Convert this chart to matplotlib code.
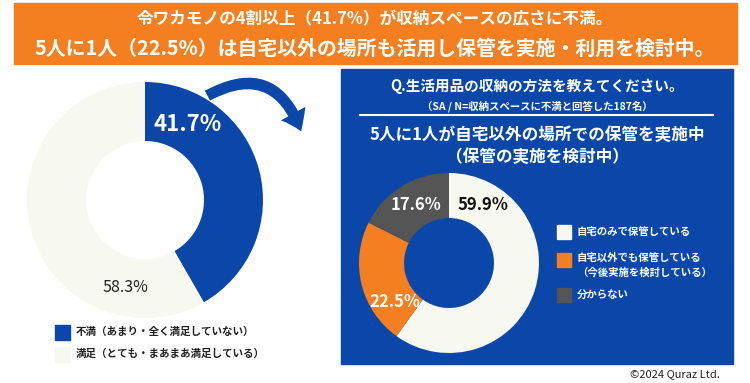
import matplotlib
matplotlib.use('Agg')
import matplotlib.pyplot as plt
from matplotlib.patches import Rectangle, FancyArrowPatch
from matplotlib.lines import Line2D

plt.rcParams['font.family'] = ['Noto Sans CJK JP', 'DejaVu Sans']

# data
left_labels = ['不満（あまり・全く満足していない）', '満足（とても・まあまあ満足している）']
left_values = [41.7, 58.3]
right_labels = ['自宅のみで保管している', '自宅以外でも保管している\n（今後実施を検討している）', '分からない']
right_values = [59.9, 22.5, 17.6]

banner_lines = ['令ワカモノの4割以上（41.7%）が収納スペースの広さに不満。',
                '5人に1人（22.5%）は自宅以外の場所も活用し保管を実施・利用を検討中。']
panel_title = 'Q.生活用品の収納の方法を教えてください。'
panel_sub = '（SA / N=収納スペースに不満と回答した187名）'
panel_head = '5人に1人が自宅以外の場所での保管を実施中\n（保管の実施を検討中）'

BLUE = '#0a47a8'
ORANGE = '#f47f20'
OFFWHITE = '#f7f8f0'
GRAY = '#555555'
left_colors = [BLUE, OFFWHITE]
right_colors = [OFFWHITE, ORANGE, GRAY]

W, H = 750, 383
fig = plt.figure(figsize=(W / 100, H / 100), dpi=100)


def fx(x):
    return x / W


def fy(y):
    return 1 - y / H


def donut_axes(cx, cy, r):
    ax = fig.add_axes([fx(cx - r), fy(cy + r), 2 * r / W, 2 * r / H])
    ax.set_zorder(5)
    ax.patch.set_visible(False)
    return ax


# banner
fig.patches.append(Rectangle((fx(14), fy(64)), fx(737) - fx(14), fy(3) - fy(64),
                             transform=fig.transFigure, color=ORANGE, zorder=-1))
fig.text(0.5, fy(19), banner_lines[0], ha='center', va='center', color='white',
         fontsize=12, fontweight='bold')
fig.text(0.5, fy(48), banner_lines[1], ha='center', va='center', color='white',
         fontsize=14.3, fontweight='bold')

# blue panel
fig.patches.append(Rectangle((fx(341), fy(364)), fx(733) - fx(341), fy(69) - fy(364),
                             transform=fig.transFigure, color=BLUE, zorder=-1))
pcx = 537
fig.text(fx(pcx), fy(86), panel_title, ha='center', va='center', color='white',
         fontsize=10.5, fontweight='bold')
fig.text(fx(pcx), fy(106), panel_sub, ha='center', va='center', color='white',
         fontsize=7.5, fontweight='bold')
fig.lines.append(Line2D([fx(360), fx(713)], [fy(115), fy(115)], transform=fig.transFigure,
                        color='white', lw=1.5))
fig.text(fx(pcx), fy(146), panel_head, ha='center', va='center', color='white',
         fontsize=12, fontweight='bold', linespacing=1.35)

# left donut
ax1 = donut_axes(145, 200, 118)
ax1.pie(left_values, colors=left_colors, startangle=90, counterclock=False,
        wedgeprops=dict(width=0.5, edgecolor='none'))
ax1.set_xlim(-1, 1)
ax1.set_ylim(-1, 1)
ax1.text(0.36, 0.64, f'{left_values[0]}%', ha='center', va='center', color='white',
         fontsize=16, fontweight='bold')
ax1.text(-0.17, -0.74, f'{left_values[1]}%', ha='center', va='center', color='#222222',
         fontsize=11.5)

# left legend
for i, (lab, col) in enumerate(zip(left_labels, left_colors)):
    y = 332 + i * 22
    fig.patches.append(Rectangle((fx(55), fy(y + 7.5)), 15 / W, 15 / H,
                                 transform=fig.transFigure, color=col))
    fig.text(fx(76), fy(y), lab, ha='left', va='center', color='#222222',
             fontsize=7.6, fontweight='bold')

# right donut
ax2 = donut_axes(449, 263, 90)
ax2.pie(right_values, colors=right_colors, startangle=90, counterclock=False,
        wedgeprops=dict(width=0.5, edgecolor='none'))
ax2.set_xlim(-1, 1)
ax2.set_ylim(-1, 1)
ax2.text(0.38, 0.64, f'{right_values[0]}%', ha='center', va='center', color='#111111',
         fontsize=12, fontweight='bold')
ax2.text(-0.6, -0.43, f'{right_values[1]}%', ha='center', va='center', color='white',
         fontsize=12, fontweight='bold')
ax2.text(-0.37, 0.64, f'{right_values[2]}%', ha='center', va='center', color='white',
         fontsize=12, fontweight='bold')

# right legend
legend_y = [232, 260, 295]
for lab, col, y in zip(right_labels, right_colors, legend_y):
    fig.patches.append(Rectangle((fx(557), fy(y + 7)), 14 / W, 14 / H,
                                 transform=fig.transFigure, color=col))
    fig.text(fx(577), fy(y - 7) if '\n' in lab else fy(y), lab, ha='left',
             va='top' if '\n' in lab else 'center',
             color='white', fontsize=7.5, fontweight='bold', linespacing=1.5)

# curved arrow
arrow = FancyArrowPatch((fx(205), fy(97)), (fx(302), fy(134)), transform=fig.transFigure,
                        connectionstyle='arc3,rad=-0.6',
                        arrowstyle='simple,head_width=20,head_length=14,tail_width=8',
                        color=BLUE, lw=0)
fig.patches.append(arrow)

fig.text(fx(720), fy(374), '©2024 Quraz Ltd.', ha='right', va='center', color='#222222',
         fontsize=8)

fig.savefig('out.png', dpi=100, facecolor='white')
